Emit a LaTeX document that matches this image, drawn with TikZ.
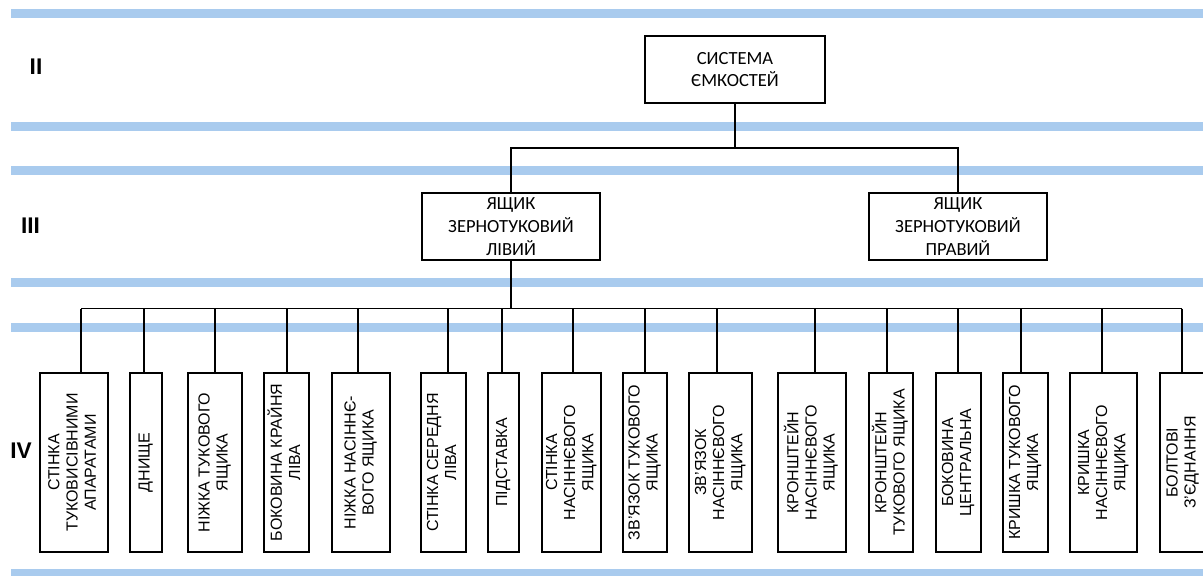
\documentclass[tikz,border=0pt]{standalone}
\usepackage{fontspec}
\usepackage{graphicx}
\setmainfont{Liberation Sans}
\newfontfamily\narrowfont{Carlito}
\definecolor{bandblue}{RGB}{169,203,238}

% text set upright, reading from bottom to top
\newcommand\sidewaystext[1]{\rotatebox{90}{\begin{tabular}{@{}c@{}}#1\end{tabular}}}

\tikzset{
  stripe/.style={fill=bandblue},
  upperbox/.style={draw, line width=1.6pt, align=center, inner sep=0pt,
    minimum width=133.5pt, minimum height=50.25pt,
    font=\narrowfont\fontsize{13.9}{17}\selectfont},
  partbox/.style={draw, line width=1.6pt, inner sep=0pt, minimum height=134.25pt,
    font=\fontsize{12}{13.6}\selectfont},
  link/.style={line width=1.2pt},
  levellabel/.style={font=\bfseries\fontsize{17}{18}\selectfont, inner sep=0pt}
}

% one component box of level IV with its drop line from the bus
\newcommand\partnode[5]{%
  \node[partbox, minimum width={(#3-#2)*0.75pt}] (#1) at ({(#2+#3)/2},462.5) {\sidewaystext{#5}};
  \coordinate (#1s) at (#4,373);
  \draw[link] (#1s |- busB) -- (#1s);
}

\begin{document}
\begin{tikzpicture}[x=0.75pt,y=-0.75pt]
\useasboundingbox (0,0) rectangle (1203,575);

% horizontal level bands
\foreach \c in {13,126,170.5,282.5,327.5,573}
  \fill[stripe] (11,\c-4.5) rectangle (1203,\c+4.5);

% level numbers
\node[levellabel] (lvII) at (36,66.5) {II};
\node[levellabel] (lvIII) at (30.5,225.5) {III};
\node[levellabel] (lvIV) at (21,450.5) {IV};

% levels II and III
\node[upperbox, minimum width=135pt] (sys) at (735,69.5) {СИСТЕМА\\ЄМКОСТЕЙ};
\node[upperbox] (left) at (511,226.5) {ЯЩИК\\ЗЕРНОТУКОВИЙ\\ЛІВИЙ};
\node[upperbox] (right) at (958,226.5) {ЯЩИК\\ЗЕРНОТУКОВИЙ\\ПРАВИЙ};

\coordinate (busA) at (735,148);
\coordinate (busB) at (511,308.5);
\draw[link] (sys.south) -- (busA);
\draw[link] (left.north) |- (busA) -| (right.north);
\draw[link] (left.south) -- (busB);

% level IV
\partnode{p1}{40}{108}{81}{СТІНКА\\ТУКОВИСІВНИМИ\\АПАРАТАМИ}
\partnode{p2}{130}{162}{144}{ДНИЩЕ}
\partnode{p3}{188}{242}{215}{НІЖКА ТУКОВОГО\\ЯЩИКА}
\partnode{p4}{264}{309}{287}{БОКОВИНА КРАЙНЯ\\ЛІВА}
\partnode{p5}{332}{390}{358}{НІЖКА НАСІННЄ-\\ВОГО ЯЩИКА}
\partnode{p6}{421}{466}{448}{СТІНКА СЕРЕДНЯ\\ЛІВА}
\partnode{p7}{488}{519}{502}{ПІДСТАВКА}
\partnode{p8}{542}{601}{573}{СТІНКА\\НАСІННЄВОГО\\ЯЩИКА}
\partnode{p9}{623}{667}{645}{ЗВ’ЯЗОК ТУКОВОГО\\ЯЩИКА}
\partnode{p10}{689}{752}{717}{ЗВ’ЯЗОК\\НАСІННЄВОГО\\ЯЩИКА}
\partnode{p11}{778}{846}{815}{КРОНШТЕЙН\\НАСІННЄВОГО\\ЯЩИКА}
\partnode{p12}{869}{913}{887}{КРОНШТЕЙН\\ТУКОВОГО ЯЩИКА}
\partnode{p13}{936}{981}{958}{БОКОВИНА\\ЦЕНТРАЛЬНА}
\partnode{p14}{1003}{1048}{1021}{КРИШКА ТУКОВОГО\\ЯЩИКА}
\partnode{p15}{1070}{1137}{1102}{КРИШКА\\НАСІННЄВОГО\\ЯЩИКА}
\partnode{p16}{1160}{1206}{1182}{БОЛТОВІ\\З’ЄДНАННЯ}

\draw[link] (p1s |- busB) -- (p16s |- busB);
\end{tikzpicture}
\end{document}
